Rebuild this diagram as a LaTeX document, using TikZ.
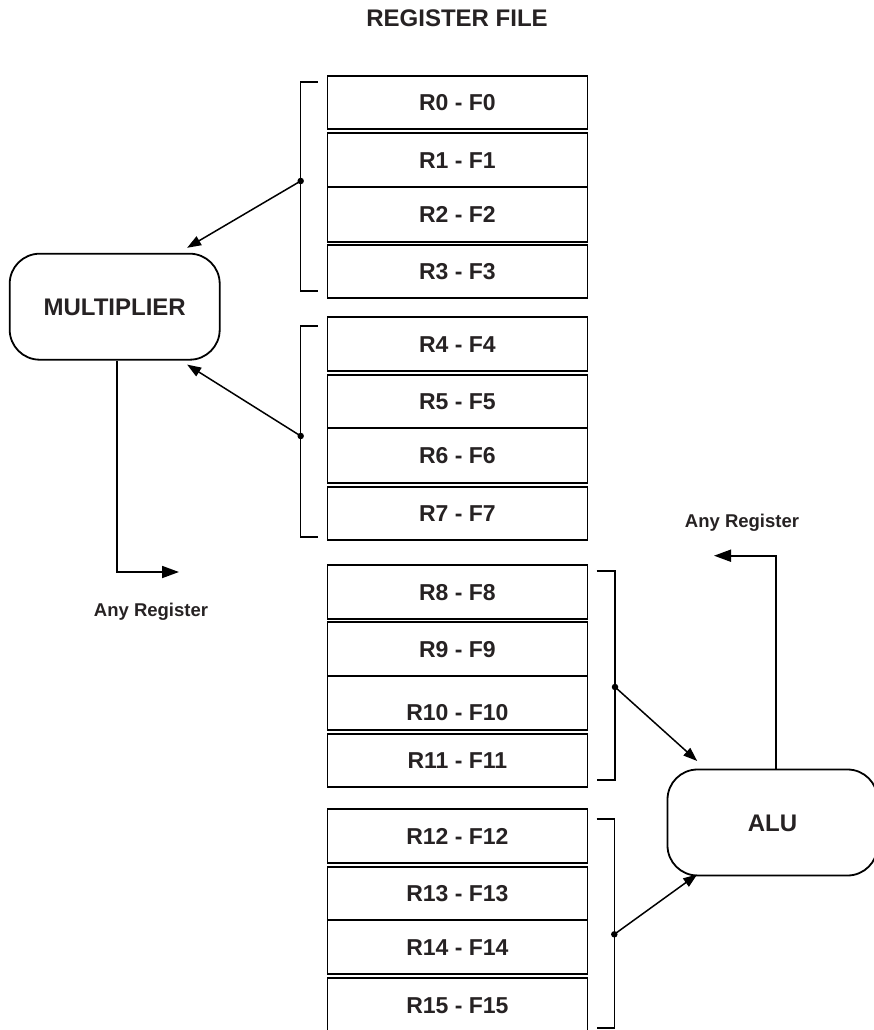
\documentclass[tikz,border=0pt]{standalone}
\usepackage{fontspec}
\setmainfont{Liberation Sans}
\usepackage{xcolor}
\definecolor{ink}{RGB}{38,34,35}
\usepackage{tikz}
\usetikzlibrary{positioning, arrows.meta}

\begin{document}
\begin{tikzpicture}[
  x=1pt, y=-1pt,
  reg/.style={draw, line width=1.4pt, minimum width=260pt, inner sep=0pt, text=ink, font=\fontsize{23}{25}\selectfont\bfseries, text height=16.3pt, text depth=0pt},
  unit/.style={draw, line width=1.8pt, rounded corners=30pt, minimum width=210pt, minimum height=106pt, inner sep=0pt, text=ink, font=\fontsize{24}{27}\selectfont\bfseries, text height=17pt, text depth=0pt},
  heading/.style={text=ink, font=\fontsize{24}{27}\selectfont\bfseries, text height=17pt, text depth=0pt, inner sep=0pt},
  note/.style={text=ink, font=\fontsize{18.5}{21}\selectfont\bfseries, anchor=base, inner sep=0pt},
  brace/.style={line width=1.5pt},
  tap/.style={circle, fill, inner sep=0pt, minimum size=6.5pt},
  feed/.style={line width=1.5pt, -{Triangle[length=14pt, width=10pt]}},
  result/.style={line width=1.8pt, -{Triangle[length=17pt, width=12pt]}},
]
  \useasboundingbox (0,0) rectangle (873,1030);

  % title
  \node[heading] (title) at (457,18.3) {REGISTER FILE};

  % register file, first bank
  \node[reg, minimum height=53pt] (r0) at (457.4,102.5) {R0 - F0};
  \node[reg, minimum height=54pt] (r1) at (457.4,160) {R1 - F1};
  \node[reg, minimum height=55pt] (r2) at (457.4,214.5) {R2 - F2};
  \node[reg, minimum height=53pt] (r3) at (457.4,271.5) {R3 - F3};
  \node[reg, minimum height=54pt] (r4) at (457.4,344) {R4 - F4};
  \node[reg, minimum height=53pt] (r5) at (457.4,401.5) {R5 - F5};
  \node[reg, minimum height=55pt] (r6) at (457.4,455.5) {R6 - F6};
  \node[reg, minimum height=53pt] (r7) at (457.4,513.5) {R7 - F7};

  % register file, second bank
  \node[reg, minimum height=54pt] (r8) at (457.4,592) {R8 - F8};
  \node[reg, minimum height=54pt] (r9) at (457.4,649) {R9 - F9};
  \node[reg, minimum height=54pt, text height=34pt] (r10) at (457.4,703) {R10 - F10};
  \node[reg, minimum height=53pt] (r11) at (457.4,760.5) {R11 - F11};
  \node[reg, minimum height=54pt] (r12) at (457.4,836) {R12 - F12};
  \node[reg, minimum height=53pt] (r13) at (457.4,893.5) {R13 - F13};
  \node[reg, minimum height=54pt] (r14) at (457.4,947) {R14 - F14};
  \node[reg, minimum height=54pt] (r15) at (457.4,1005) {R15 - F15};

  % functional units
  \node[unit] (mul) at (114.7,306.7) {MULTIPLIER};
  \node[unit] (alu) at (772.5,822.5) {ALU};

  % brackets round the register groups
  \draw[brace] (317.7,82) -| (300.7,291) -- (317.7,291);
  \draw[brace] (317.7,326) -| (300.7,537) -- (317.7,537);
  \draw[brace] (596.7,571) -| (615,780) -- (596.7,780);
  \draw[brace] (596.7,819) -| (614.3,1028) -- (596.7,1028);

  \node[tap] (tapa) at (300.7,181) {};
  \node[tap] (tapb) at (300.7,436) {};
  \node[tap] (tapc) at (615,687) {};
  \node[tap] (tapd) at (614.3,934.3) {};

  % operands
  \draw[feed] (tapa.center) -- ([xshift=-33.5pt, yshift=5pt]mul.north east);
  \draw[feed] (tapb.center) -- ([xshift=-33.5pt, yshift=-4pt]mul.south east);
  \draw[feed] (tapc.center) -- ([xshift=30.6pt, yshift=7.6pt]alu.north west);
  \draw[feed] (tapd.center) -- ([xshift=30.6pt, yshift=2pt]alu.south west);

  % results
  \coordinate (mulend) at (179,572);
  \coordinate (aluend) at (714,555.7);
  \draw[result] ([xshift=2pt]mul.south) |- (mulend);
  \draw[result] ([xshift=3.5pt]alu.north) |- (aluend);
  \node[note] (mulnote) at (151,616) {Any Register};
  \node[note] (alunote) at (742,527.7) {Any Register};
\end{tikzpicture}
\end{document}
